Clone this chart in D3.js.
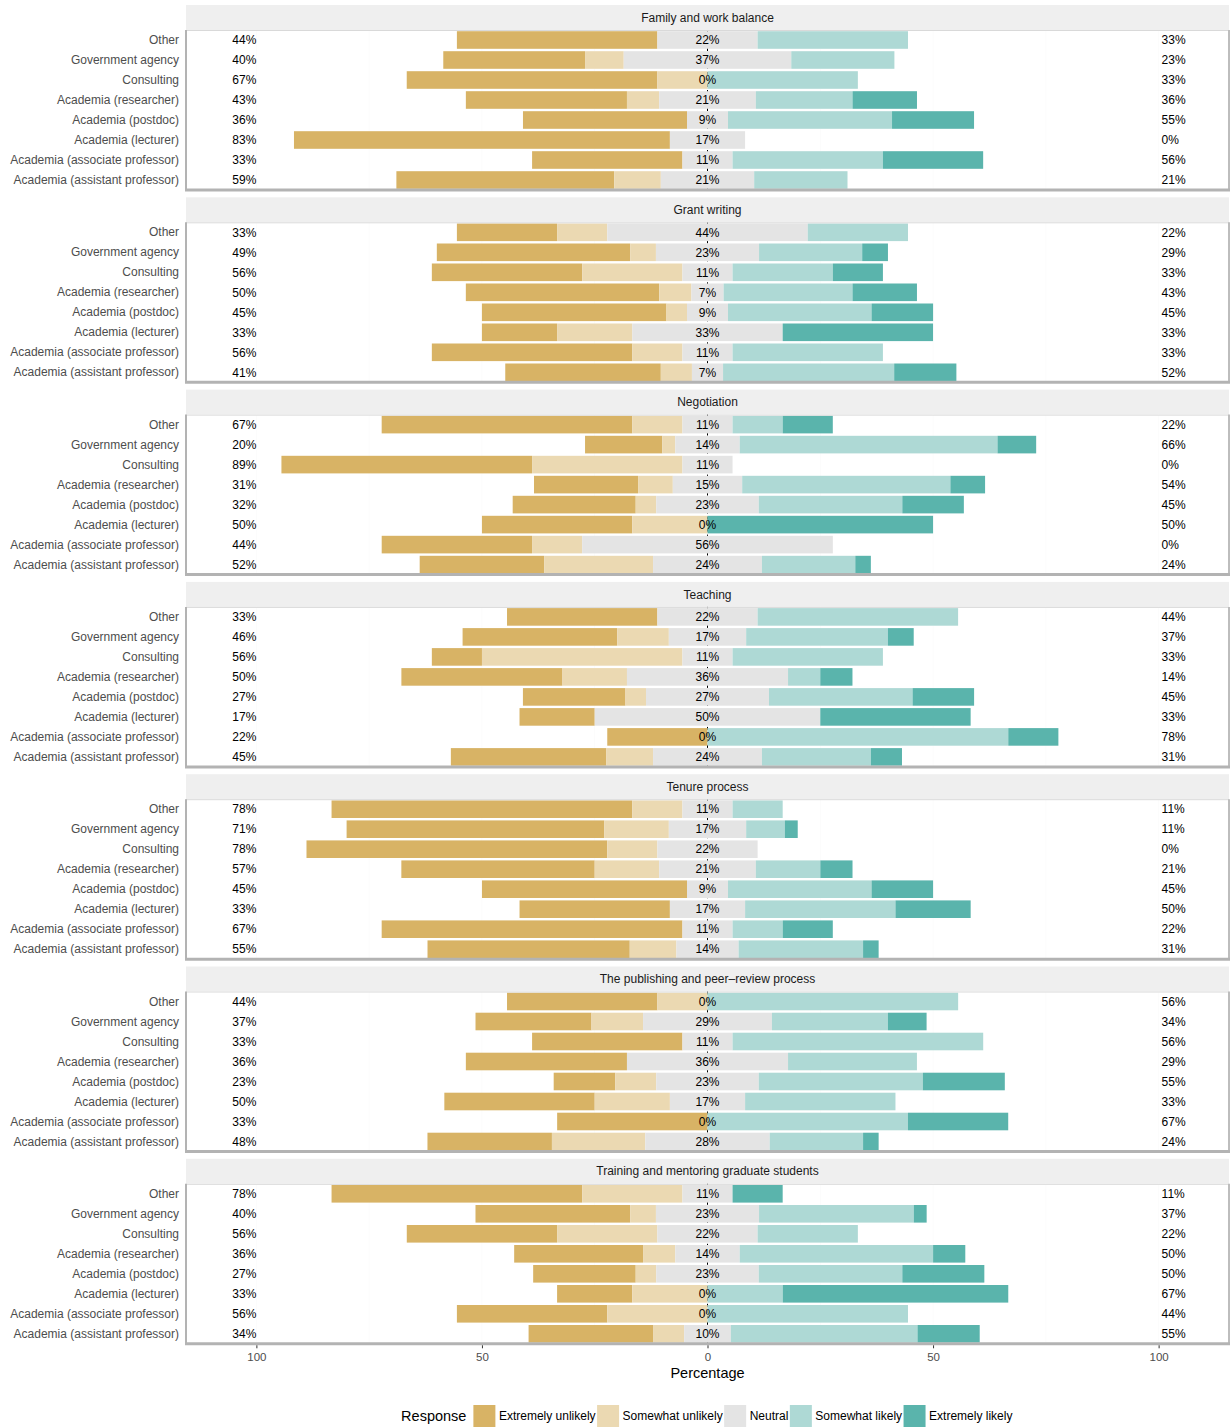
<!DOCTYPE html>
<html>
<head>
<meta charset="utf-8">
<script src="https://cdn.jsdelivr.net/npm/d3@7"></script>
<style>
body { margin: 0; background: #fff; }
svg { display: block; font-family: "Liberation Sans", Arial, Helvetica, sans-serif; }
</style>
</head>
<body>
<svg class="chart" width="1231" height="1428"></svg>
<script>
/*global d3*/
var categories = ["Other", "Government agency", "Consulting", "Academia (researcher)", "Academia (postdoc)",
    "Academia (lecturer)", "Academia (associate professor)", "Academia (assistant professor)"];
var responses = ["Extremely unlikely", "Somewhat unlikely", "Neutral", "Somewhat likely", "Extremely likely"];
var colors = ["#d8b365", "#ebd9b2", "#e4e4e4", "#aed9d5", "#5ab4ac"];
var facetTitles = ["Family and work balance", "Grant writing", "Negotiation", "Teaching", "Tenure process",
    "The publishing and peer\u2013review process", "Training and mentoring graduate students"];

// percent per row (same order as categories): ext. unlikely, somewhat unlikely, neutral, somewhat likely, ext. likely
var familyWork = [
    [44.44, 0, 22.22, 33.33, 0], [31.43, 8.57, 37.14, 22.86, 0], [55.56, 11.11, 0, 33.33, 0],
    [35.71, 7.14, 21.43, 21.43, 14.29], [36.36, 0, 9.09, 36.36, 18.18], [83.33, 0, 16.67, 0, 0],
    [33.33, 0, 11.11, 33.33, 22.22], [48.28, 10.34, 20.69, 20.69, 0]];
var grantWriting = [
    [22.22, 11.11, 44.44, 22.22, 0], [42.86, 5.71, 22.86, 22.86, 5.71], [33.33, 22.22, 11.11, 22.22, 11.11],
    [42.86, 7.14, 7.14, 28.57, 14.29], [40.91, 4.55, 9.09, 31.82, 13.64], [16.67, 16.67, 33.33, 0, 33.33],
    [44.44, 11.11, 11.11, 33.33, 0], [34.48, 6.9, 6.9, 37.93, 13.79]];
var negotiation = [
    [55.56, 11.11, 11.11, 11.11, 11.11], [17.14, 2.86, 14.29, 57.14, 8.57], [55.56, 33.33, 11.11, 0, 0],
    [23.08, 7.69, 15.38, 46.15, 7.69], [27.27, 4.55, 22.73, 31.82, 13.64], [33.33, 16.67, 0, 0, 50],
    [33.33, 11.11, 55.56, 0, 0], [27.59, 24.14, 24.14, 20.69, 3.45]];
var teaching = [
    [33.33, 0, 22.22, 44.44, 0], [34.29, 11.43, 17.14, 31.43, 5.71], [11.11, 44.44, 11.11, 33.33, 0],
    [35.71, 14.29, 35.71, 7.14, 7.14], [22.73, 4.55, 27.27, 31.82, 13.64], [16.67, 0, 50, 0, 33.33],
    [22.22, 0, 0, 66.67, 11.11], [34.48, 10.34, 24.14, 24.14, 6.9]];
var tenure = [
    [66.67, 11.11, 11.11, 11.11, 0], [57.14, 14.29, 17.14, 8.57, 2.86], [66.67, 11.11, 22.22, 0, 0],
    [42.86, 14.29, 21.43, 14.29, 7.14], [45.45, 0, 9.09, 31.82, 13.64], [33.33, 0, 16.67, 33.33, 16.67],
    [66.67, 0, 11.11, 11.11, 11.11], [44.83, 10.34, 13.79, 27.59, 3.45]];
var publishing = [
    [33.33, 11.11, 0, 55.56, 0], [25.71, 11.43, 28.57, 25.71, 8.57], [33.33, 0, 11.11, 55.56, 0],
    [35.71, 0, 35.71, 28.57, 0], [13.64, 9.09, 22.73, 36.36, 18.18], [33.33, 16.67, 16.67, 33.33, 0],
    [33.33, 0, 0, 44.44, 22.22], [27.59, 20.69, 27.59, 20.69, 3.45]];
var training = [
    [55.56, 22.22, 11.11, 0, 11.11], [34.29, 5.71, 22.86, 34.29, 2.86], [33.33, 22.22, 22.22, 22.22, 0],
    [28.57, 7.14, 14.29, 42.86, 7.14], [22.73, 4.55, 22.73, 31.82, 18.18], [16.67, 16.67, 0, 16.67, 50],
    [33.33, 22.22, 0, 44.44, 0], [27.59, 6.9, 10.34, 41.38, 13.79]];
var facetValues = [familyWork, grantWriting, negotiation, teaching, tenure, publishing, training];
var xTicks = [-100, -50, 0, 50, 100];
var gridTicks = [-100, -75, -50, -25, 25, 50, 75, 100];

var svg = d3.select(".chart");
var panelLeft = 186, panelRight = 1229;
var top0 = 5, stripH = 25, panelH = 160, facetStep = 192.3;

var xScale = d3.scaleLinear().domain([-115.6, 115.6]).range([panelLeft, panelRight]);
var yScale = d3.scaleBand().domain(categories).range([0, panelH]).paddingInner(0.12).paddingOuter(0.06);

// turn one row into stacked segments, neutral split around zero
function segments(v) {
    var h = v[2] / 2;
    var edges = [-h - v[1] - v[0], -h - v[1], -h, h, h + v[3], h + v[3] + v[4]];
    return v.map(function (d, k) { return {k: k, x0: edges[k], x1: edges[k + 1]}; })
        .filter(function (s) { return s.x1 - s.x0 > 0; });
}

facetValues.forEach(function (values, fi) {
    var fg = svg.append("g")
        .attr("transform", "translate(0," + (top0 + fi * facetStep) + ")");

    // strip
    fg.append("rect")
        .attr("x", panelLeft).attr("y", 0)
        .attr("width", panelRight - panelLeft).attr("height", stripH)
        .attr("fill", "#efefef");
    fg.append("text")
        .attr("x", (panelLeft + panelRight) / 2)
        .attr("y", stripH / 2)
        .attr("dy", "0.35em")
        .attr("text-anchor", "middle")
        .attr("fill", "#1a1a1a")
        .style("font-size", "12px")
        .text(facetTitles[fi]);

    var g = fg.append("g").attr("transform", "translate(0," + stripH + ")");

    g.append("rect")
        .attr("x", panelLeft).attr("y", 0)
        .attr("width", panelRight - panelLeft).attr("height", panelH)
        .attr("fill", "#fff");

    g.selectAll(".grid")
        .data(gridTicks)
        .enter().append("line")
        .attr("class", "grid")
        .attr("x1", xScale).attr("x2", xScale)
        .attr("y1", 0).attr("y2", panelH)
        .attr("stroke", "#fcfcfc");

    // zero line
    g.append("line")
        .attr("x1", xScale(0)).attr("x2", xScale(0))
        .attr("y1", 0).attr("y2", panelH)
        .attr("stroke", "#000")
        .attr("stroke-width", 1)
        .attr("stroke-dasharray", "3,3");

    var rows = g.selectAll(".row")
        .data(values)
        .enter().append("g")
        .attr("class", "row")
        .attr("transform", function (d, i) { return "translate(0," + yScale(categories[i]) + ")"; });

    rows.selectAll("rect")
        .data(function (d) { return segments(d); })
        .enter().append("rect")
        .attr("x", function (s) { return xScale(s.x0); })
        .attr("width", function (s) { return xScale(s.x1) - xScale(s.x0); })
        .attr("y", 0)
        .attr("height", yScale.bandwidth())
        .attr("fill", function (s) { return colors[s.k]; });

    var mid = yScale.bandwidth() / 2;
    rows.append("text")
        .attr("x", xScale(-100))
        .attr("y", mid).attr("dy", "0.35em")
        .attr("text-anchor", "end")
        .style("font-size", "12px")
        .text(function (d) { return Math.round(d[0] + d[1]) + "%"; });
    rows.append("text")
        .attr("x", xScale(0))
        .attr("y", mid).attr("dy", "0.35em")
        .attr("text-anchor", "middle")
        .style("font-size", "12px")
        .text(function (d) { return Math.round(d[2]) + "%"; });
    rows.append("text")
        .attr("x", xScale(100) + 3)
        .attr("y", mid).attr("dy", "0.35em")
        .attr("text-anchor", "start")
        .style("font-size", "12px")
        .text(function (d) { return Math.round(d[3] + d[4]) + "%"; });

    // category labels
    g.selectAll(".cat")
        .data(categories)
        .enter().append("text")
        .attr("class", "cat")
        .attr("x", panelLeft - 7)
        .attr("y", function (d) { return yScale(d) + mid; })
        .attr("dy", "0.35em")
        .attr("text-anchor", "end")
        .attr("fill", "#4d4d4d")
        .style("font-size", "12px")
        .text(function (d) { return d; });

    // panel border
    g.append("line")
        .attr("x1", panelLeft).attr("x2", panelRight)
        .attr("y1", 0.5).attr("y2", 0.5)
        .attr("stroke", "#d9d9d9");
    g.append("line")
        .attr("x1", panelLeft).attr("x2", panelLeft)
        .attr("y1", 0).attr("y2", panelH)
        .attr("stroke", "#b3b3b3").attr("stroke-width", 2);
    g.append("line")
        .attr("x1", panelRight).attr("x2", panelRight)
        .attr("y1", 0).attr("y2", panelH)
        .attr("stroke", "#bdbdbd").attr("stroke-width", 2);
    g.append("line")
        .attr("x1", panelLeft - 1).attr("x2", panelRight + 1)
        .attr("y1", panelH).attr("y2", panelH)
        .attr("stroke", "#b3b3b3").attr("stroke-width", 3);

    if (fi === facetValues.length - 1) {
        var axis = g.append("g")
            .attr("transform", "translate(0," + (panelH + 1.5) + ")")
            .call(d3.axisBottom(xScale).tickValues(xTicks).tickSize(3).tickPadding(5)
                .tickFormat(function (d) { return Math.abs(d); }));
        axis.select(".domain").remove();
        axis.selectAll(".tick line").attr("stroke", "#333");
        axis.selectAll(".tick text")
            .attr("fill", "#4d4d4d")
            .style("font-size", "11.5px")
            .style("font-family", "Liberation Sans, Arial, sans-serif");
        g.append("text")
            .attr("x", xScale(0))
            .attr("y", panelH + 34)
            .attr("text-anchor", "middle")
            .attr("fill", "#000")
            .style("font-size", "14.5px")
            .text("Percentage");
    }
});

// legend
var legend = svg.append("g").attr("class", "legend");
var legendY = 1405, keySize = 22;
var title = legend.append("text")
    .attr("x", 0)
    .attr("y", legendY + keySize / 2)
    .attr("dy", "0.35em")
    .style("font-size", "14.5px")
    .text("Response");
var cursor = title.node().getComputedTextLength() + 7;
responses.forEach(function (r, i) {
    legend.append("rect")
        .attr("x", cursor).attr("y", legendY)
        .attr("width", keySize).attr("height", keySize)
        .attr("fill", colors[i]);
    var t = legend.append("text")
        .attr("x", cursor + keySize + 3.5)
        .attr("y", legendY + keySize / 2)
        .attr("dy", "0.35em")
        .style("font-size", "12px")
        .text(r);
    cursor += keySize + 3.5 + t.node().getComputedTextLength() + 1.5;
});
legend.attr("transform", "translate(" + (xScale(0) - cursor / 2) + ",0)");
</script>
</body>
</html>
